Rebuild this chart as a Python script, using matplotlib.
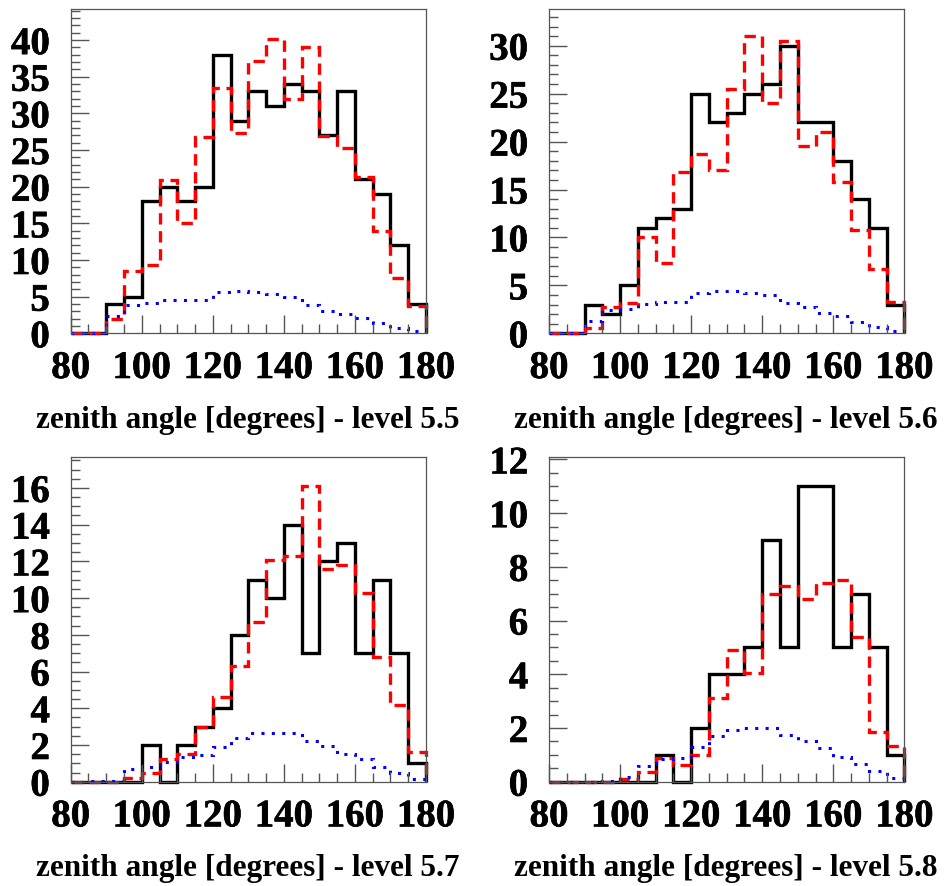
import numpy as np
import matplotlib.pyplot as plt
import matplotlib.patheffects as pe
from matplotlib.ticker import MultipleLocator

plt.rcParams['font.family'] = ['Liberation Serif', 'DejaVu Serif']
plt.rcParams['font.weight'] = 'bold'

# края бинов: 80..180 с шагом 5 градусов
edges = np.arange(80, 181, 5)

# level 5.5
data_55 = [0, 0, 4, 5, 18, 20, 18, 20, 38, 29, 33, 31, 34, 33, 27, 33, 21, 19, 12, 4]
sim_55 = [0, 0, 1.9, 8.5, 9.3, 20.9, 15, 26.8, 33.5, 27.3, 37.1, 40.2, 32, 39, 26.9, 25.3, 21.3, 14, 7.6, 3.7]
bkg_55 = [0, 0, 2.4, 3.9, 4.2, 4.5, 4.55, 4.55, 5.6, 5.8, 5.6, 5.4, 5.0, 3.9, 3.1, 2.6, 2.05, 1.45, 0.7, 0.25]

# level 5.6
data_56 = [0, 0, 3, 2, 5, 11, 12, 13, 25, 22, 23, 25, 26, 30, 22, 22, 18, 14, 11, 3]
sim_56 = [0, 0, 0.6, 2.7, 3.2, 10, 7.3, 16.8, 18.7, 17, 25.5, 31, 24, 30.5, 19.5, 21, 15.8, 10.8, 6.7, 3.3]
bkg_56 = [0, 0, 1.3, 2.4, 2.5, 3.07, 3.24, 3.3, 4.2, 4.46, 4.46, 4.25, 3.97, 3.2, 2.7, 2.16, 1.85, 1.15, 0.7, 0.24]

# level 5.7
data_57 = [0, 0, 0, 0, 2, 0, 2, 3, 4, 8, 11, 10, 14, 7, 12, 13, 7, 11, 7, 1]
sim_57 = [0, 0, 0, 0.2, 0.45, 1.25, 1.5, 3.0, 4.6, 6.3, 8.7, 12.1, 12.3, 16.1, 11.6, 11.8, 10.3, 6.8, 4.2, 1.6]
bkg_57 = [0, 0.05, 0.05, 0.67, 0.8, 1.09, 1.32, 1.45, 1.9, 2.37, 2.63, 2.68, 2.63, 2.23, 1.97, 1.5, 1.23, 0.82, 0.49, 0.14]

# level 5.8
data_58 = [0, 0, 0, 0, 0, 0, 1, 0, 2, 4, 4, 5, 9, 5, 11, 11, 5, 7, 5, 1]
sim_58 = [0, 0, 0, 0, 0.1, 0.37, 0.87, 0.64, 0.98, 3.1, 4.9, 4.05, 7.0, 7.3, 6.8, 7.4, 7.5, 5.4, 1.86, 1.34]
bkg_58 = [0, 0, 0, 0.03, 0.16, 0.58, 0.84, 0.9, 1.28, 1.71, 1.94, 1.99, 1.99, 1.75, 1.53, 1.24, 0.93, 0.66, 0.4, 0.14]

panels = [
    (data_55, sim_55, bkg_55, "5.5", 44.2, 5, 1),
    (data_56, sim_56, bkg_56, "5.6", 33.8, 5, 1),
    (data_57, sim_57, bkg_57, "5.7", 17.7, 2, 0.5),
    (data_58, sim_58, bkg_58, "5.8", 12.1, 2, 0.5),
]

positions = [
    [0.0748, 0.6238, 0.376, 0.3657],
    [0.581, 0.6238, 0.376, 0.3657],
    [0.0748, 0.1177, 0.376, 0.3668],
    [0.581, 0.1177, 0.376, 0.3668],
]

# чуть утолщаем шрифт, чтобы было похоже на жирный Times
heavy = [pe.withStroke(linewidth=0.45, foreground="black")]

fig = plt.figure(figsize=(9.45, 8.86), dpi=100)

for (d, s, b, lev, ytop, ymaj, ymin), pos in zip(panels, positions):
    ax = fig.add_axes(pos)
    ax.stairs(d, edges, color="black", lw=2.4, clip_on=False)
    ax.stairs(s, edges, color="red", lw=2.4, linestyle=(0, (3.4, 2.0)), clip_on=False)
    ax.stairs(b, edges, color="blue", lw=2.2, linestyle=(0, (1.0, 2.4)), clip_on=False)

    ax.set_xlim(80, 180)
    ax.set_ylim(0, ytop)
    ax.xaxis.set_major_locator(MultipleLocator(20))
    ax.xaxis.set_minor_locator(MultipleLocator(5))
    ax.yaxis.set_major_locator(MultipleLocator(ymaj))
    ax.yaxis.set_minor_locator(MultipleLocator(ymin))
    ax.tick_params(which="both", direction="in", top=False, right=False,
                   color="#555555", width=1.0)
    ax.tick_params(which="major", length=13)
    ax.tick_params(which="minor", length=6.5)
    ax.tick_params(axis="x", which="major", labelsize=28, pad=12)
    ax.tick_params(axis="y", which="major", labelsize=28, pad=15)
    for lbl in ax.get_xticklabels() + ax.get_yticklabels():
        lbl.set_fontweight("bold")
        lbl.set_path_effects(heavy)
    for sp in ax.spines.values():
        sp.set_color("#555555")
        sp.set_linewidth(0.9)

    ax.text(1.093, -0.268, f"zenith angle [degrees] - level {lev}",
            transform=ax.transAxes, ha="right", va="center",
            fontsize=22.5, fontweight="bold")

plt.savefig("out.png", dpi=100)
